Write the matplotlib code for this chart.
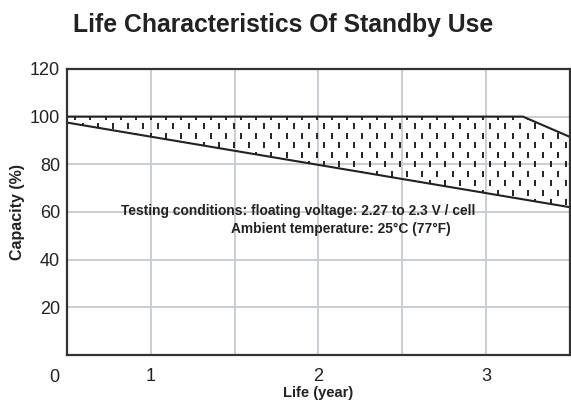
import numpy as np
import matplotlib
matplotlib.use("Agg")
import matplotlib.pyplot as plt
from matplotlib.patches import Polygon

plt.rcParams['font.family'] = ['Liberation Sans', 'DejaVu Sans']

# upper boundary (capacity stays at 100% then drops)
upper_x = [0.5, 3.22, 3.5]
upper_y = [100, 100, 91.5]
# lower boundary
lower_x = [0.5, 3.5]
lower_y = [97.5, 62]

x_ticks = [1, 2, 3]
x_tick_labels = ['1', '2', '3']
x_grid_minor = [1.5, 2.5]
y_ticks = [20, 40, 60, 80, 100, 120]

title = 'Life Characteristics Of Standby Use'
note1 = 'Testing conditions: floating voltage: 2.27 to 2.3 V / cell'
note2 = 'Ambient temperature: 25°C (77°F)'

fig = plt.figure(figsize=(5.71, 4.03), dpi=100)
ax = fig.add_axes([0.1173, 0.119, 0.8807, 0.710])

ax.set_xlim(0.5, 3.5)
ax.set_ylim(0, 120)

ax.set_xticks(x_ticks)
ax.set_xticklabels(x_tick_labels)
ax.set_xticks(x_grid_minor, minor=True)
ax.set_yticks(y_ticks)
ax.tick_params(which='both', length=0, labelsize=13, colors='#222222')
ax.tick_params(axis='x', pad=9)
ax.tick_params(axis='y', pad=5)
ax.grid(True, which='both', color='#c9cdd4', lw=1.4, zorder=0)

for s in ax.spines.values():
    s.set_color('#333333')
    s.set_linewidth(1.6)
    s.set_zorder(5)

# band between the two lines, filled with short vertical dashes
ux = np.linspace(upper_x[0], upper_x[-1], 200)
uy = np.interp(ux, upper_x, upper_y)
ly = np.interp(ux, lower_x, lower_y)
verts = np.vstack([np.column_stack([ux, uy]), np.column_stack([ux[::-1], ly[::-1]])])
band = Polygon(verts, closed=True, facecolor='none', edgecolor='none')
ax.add_patch(band)

col_step = 0.09
row_step = 4.0
gx, gy = [], []
for i, yy in enumerate(np.arange(60, 102, row_step)):
    off = col_step / 2 if i % 2 else 0
    for xx in np.arange(0.55 + off, 3.5, col_step):
        gx.append(xx)
        gy.append(yy)
dashes = ax.scatter(gx, gy, marker='|', s=18, color='#222222', linewidths=1.4, zorder=3)
dashes.set_clip_path(band)

ax.plot(upper_x, upper_y, color='#222222', lw=1.5, zorder=4)
ax.plot(lower_x, lower_y, color='#222222', lw=1.5, zorder=4)

ax.text(0.825, 60.5, note1, fontsize=9.9, fontweight='bold', color='#222222',
        va='center', ha='left', zorder=6)
ax.text(1.48, 53, note2, fontsize=9.9, fontweight='bold', color='#222222',
        va='center', ha='left', zorder=6)

ax.text(-0.015, -0.05, '0', transform=ax.transAxes, fontsize=13, color='#222222',
        ha='right', va='top')

ax.set_xlabel('Life (year)', fontsize=10.5, fontweight='bold', color='#222222', labelpad=1)
ax.set_ylabel('Capacity (%)', fontsize=11.5, fontweight='bold', color='#222222')
ax.yaxis.set_label_coords(-0.0835, 0.5)

fig.text(0.495, 0.937, title, fontsize=17.8, fontweight='bold', color='#222222',
         ha='center', va='center')

fig.savefig('out.png', dpi=100)
